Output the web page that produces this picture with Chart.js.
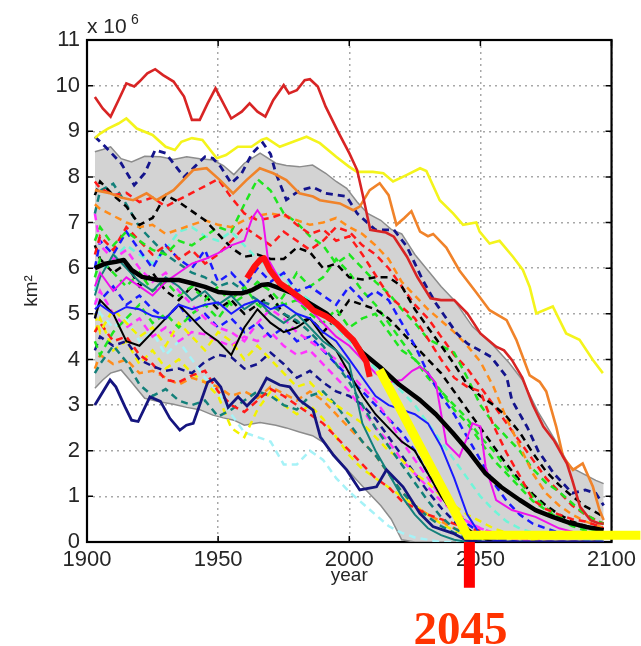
<!DOCTYPE html>
<html><head><meta charset="utf-8">
<script src="https://cdn.jsdelivr.net/npm/chart.js@4/dist/chart.umd.min.js"></script>
<style>html,body{margin:0;padding:0;background:#fff;}canvas{display:block;}</style>
</head><body>
<canvas id="c" width="641" height="646"></canvas>
<script>
// ---------- axis ticks ----------
const xTicks = [1900, 1950, 2000, 2050, 2100];
const yTicks = [0,1,2,3,4,5,6,7,8,9,10,11];

// ---------- common 5-year grid for model runs ----------
const years5 = [1903,1905,1910,1915,1920,1925,1930,1935,1940,1945,1950,1955,1960,1965,1970,1975,1980,1985,1990,1995,2000,2005,2010,2015,2020,2025,2030,2035,2040,2045,2050,2055,2060,2065,2070,2075,2080,2085,2090,2095,2097];

// ---------- ensemble spread (grey band) ----------
const bandYears = [1903,1906,1909,1913,1917,1922,1928,1933,1938,1943,1948,1952,1956,1960,1966,1972,1976,1981,1986,1991,1995,1999,2003,2007,2012,2016,2020,2025,2030,2035,2040,2047,2055,2061,2066,2072,2080,2084,2090,2094,2097];
const bandUpper = [8.55,8.6,8.66,8.4,8.33,8.45,8.44,8.38,8.44,8.4,8.37,8.25,8.05,8.3,8.52,8.3,8.25,8.22,8.26,8.08,7.9,7.75,7.45,7.2,7.05,6.85,6.75,6.3,5.95,5.6,5.3,4.72,4.3,3.92,3.55,2.85,2.09,1.65,1.47,1.35,1.28];
const bandLower = [3.37,3.55,3.7,3.77,3.5,3.15,3.07,3.02,2.95,2.9,2.78,2.72,2.67,2.56,2.62,2.56,2.5,2.41,2.33,2.15,1.85,1.6,1.35,1.1,0.8,0.5,0.05,0,0,0,0,0,0,0,0,0,0,0,0,0,0];

// ---------- dashed model runs (values on years5) ----------
const dNavy1Years = [1903,1907,1913,1918,1922,1926,1930,1934,1937,1941,1945,1948,1951,1955,1959,1963,1967,1970,1972,1976,1981,1986,1991,1999,2003,2010,2017,2022,2028,2033,2041,2045,2054,2060,2062,2068,2072,2078,2085,2090,2094,2097];
const dNavy1 = [8.88,8.66,8.3,7.82,8.08,8.59,8.52,8.22,8.0,8.22,8.44,8.41,8.22,7.86,8.08,8.52,8.75,8.5,8.08,7.5,7.7,7.78,7.64,7.57,7.2,6.84,6.84,6.47,5.74,5.23,4.57,4.35,4.06,3.62,3.11,2.5,2.0,1.5,1.07,1.14,1.07,0.8];
const dRed1 = [7.9,7.75,7.6,7.65,7.45,7.55,7.35,7.5,7.65,7.8,7.95,7.55,7.2,7.05,7.1,7.2,6.95,6.75,6.85,6.6,6.7,6.3,5.85,5.4,5.15,4.9,4.45,4.0,3.6,3.4,3.3,2.55,1.95,1.45,0.92,0.72,0.6,0.5,0.45,0.35,0.3];
const dBlack1 = [7.6,7.9,7.6,7.35,6.95,7.1,7.6,7.45,7.25,7.05,6.75,6.45,6.25,6.3,6.2,6.2,6.45,6.35,6.0,6.1,5.8,5.75,5.8,5.8,5.6,5.1,4.7,4.3,3.9,3.45,3.2,3.0,2.75,2.4,1.95,1.55,1.25,1.0,0.78,0.62,0.55];
const dOrange1 = [7.4,7.3,7.15,7.0,6.9,6.95,6.75,6.85,6.95,7.05,6.95,6.9,7.05,7.15,7.2,7.15,7.05,6.95,7.0,7.1,6.9,6.75,6.5,6.2,5.7,5.4,5.1,4.85,4.6,4.3,3.95,3.4,2.7,2.1,1.5,1.07,0.8,0.6,0.45,0.35,0.3];
const dGreen1 = [6.6,6.9,6.5,6.8,6.6,6.4,6.3,6.6,6.5,6.7,6.9,6.8,7.4,7.95,7.7,7.2,7.0,6.7,6.5,6.1,6.3,6.0,5.7,5.45,5.1,4.8,4.45,4.3,4.15,3.6,3.0,2.6,2.3,2.0,1.6,1.3,1.1,0.85,0.6,0.45,0.4];
const dRed3 = [6.3,6.7,6.4,6.9,6.6,6.3,6.5,6.2,6.4,6.1,6.3,6.6,6.9,6.7,6.5,6.8,6.6,6.4,6.6,6.9,6.8,6.5,6.3,6.0,5.6,5.2,4.9,4.5,4.1,3.8,3.4,3.0,2.6,2.2,1.8,1.4,1.1,0.8,0.6,0.45,0.4];
const dTeal1 = [7.2,7.7,7.85,7.4,6.9,6.6,6.3,6.1,5.9,5.8,5.6,5.7,5.5,5.3,5.2,5.0,4.85,4.6,4.3,3.9,3.5,3.0,2.5,2.1,1.7,1.3,0.9,0.55,0.3,0.15,0.05,0,0,0,0,0,0,0,0,0,0];
const dMagenta1 = [7.2,6.5,6.2,6.4,6.0,5.7,5.9,5.5,5.2,4.9,4.7,4.6,4.4,4.8,5.1,4.9,4.6,4.4,4.2,4.0,3.7,3.4,3.1,2.7,2.2,1.8,1.4,1.0,0.7,0.45,0.3,0.2,0.1,0.05,0,0,0,0,0,0,0];
const dBlue1 = [6.0,6.6,6.3,6.8,6.4,6.0,6.5,6.2,6.0,6.4,5.7,5.9,5.6,6.0,5.7,5.9,5.5,5.6,5.4,5.2,5.6,5.3,5.5,5.3,4.8,4.3,3.7,3.2,2.8,2.3,1.8,1.3,0.9,0.6,0.4,0.3,0.2,0.15,0.1,0.1,0.1];
const dAqua1 = [5.5,5.9,6.2,6.5,6.3,6.1,6.4,6.8,6.9,6.7,6.6,6.8,6.5,6.2,6.0,5.8,5.5,5.3,5.0,4.7,4.4,4.1,3.8,3.6,3.3,3.0,2.6,2.2,1.8,1.4,1.0,0.7,0.45,0.3,0.2,0.15,0.1,0.1,0.05,0.05,0.05];
const dGreen2 = [5.8,6.2,5.9,5.6,5.9,5.5,5.7,5.4,5.6,5.3,5.6,5.2,5.4,5.7,5.5,5.2,5.3,5.0,4.8,5.1,4.7,4.9,5.0,4.6,4.2,4.0,3.6,3.3,3.0,2.7,2.3,2.0,1.6,1.3,1.0,0.75,0.55,0.4,0.3,0.25,0.2];
const dGreen3 = [4.4,4.1,4.6,4.9,5.2,4.8,5.0,4.7,5.0,5.2,4.9,5.3,5.6,5.2,5.0,5.4,5.9,5.6,5.8,6.2,5.9,5.5,5.2,4.8,4.4,4.0,3.7,3.3,2.9,2.6,2.2,1.8,1.5,1.2,0.9,0.7,0.5,0.35,0.25,0.2,0.2];
const dBlack2 = [6.5,6.2,5.9,6.1,5.6,5.9,5.5,5.3,5.6,5.4,5.1,5.3,5.0,5.2,5.4,5.0,4.8,4.9,4.6,4.9,5.3,5.2,5.1,4.9,4.6,4.3,4.0,3.7,3.3,2.9,2.5,2.1,1.7,1.35,1.05,0.8,0.6,0.45,0.35,0.3,0.28];
const dBlue2 = [4.9,5.3,5.6,5.2,5.4,5.1,4.9,5.2,4.8,5.0,4.7,4.9,4.6,4.8,4.5,4.7,4.4,4.5,4.2,3.9,3.6,3.3,3.0,2.7,2.4,2.0,1.5,1.1,0.7,0.4,0.2,0.1,0.05,0,0,0,0,0,0,0,0];
const dYellow1 = [5.0,4.6,5.1,4.8,4.5,4.7,4.3,4.8,4.5,4.2,4.6,4.4,4.0,4.3,4.0,3.7,3.4,3.5,3.2,3.0,2.8,2.6,2.3,2.0,1.8,1.5,1.3,1.0,0.8,0.6,0.45,0.3,0.2,0.1,0.05,0,0,0,0,0,0];
const dYellow2 = [4.6,4.9,4.2,4.4,3.9,4.2,3.8,4.0,3.7,3.5,3.2,2.5,2.3,2.9,3.3,3.0,2.8,3.0,2.7,2.3,1.9,1.6,1.4,1.2,1.0,0.8,0.6,0.4,0.25,0.15,0.1,0,0,0,0,0,0,0,0,0,0];
const dCyan1 = [5.3,5.0,4.7,4.9,4.4,4.6,4.1,4.4,4.0,3.6,3.3,2.8,2.4,2.3,2.2,1.7,1.7,2.0,1.8,1.4,1.1,0.85,0.6,0.35,0.2,0.1,0.05,0,0,0,0,0,0,0,0,0,0,0,0,0,0];
const dNavy2 = [4.2,4.5,4.3,4.4,4.0,3.85,3.75,3.8,3.7,3.95,4.1,4.05,3.8,3.9,4.15,3.9,3.6,3.75,3.5,3.3,3.2,3.0,2.7,2.3,1.9,1.5,1.1,0.75,0.45,0.25,0.12,0.05,0,0,0,0,0,0,0,0,0];
const dTeal2 = [3.7,3.9,4.3,3.95,3.45,3.2,3.35,3.1,3.0,3.1,2.75,2.9,3.1,3.3,3.2,3.0,2.9,3.2,3.3,3.0,2.6,2.2,1.9,1.5,1.1,0.8,0.55,0.35,0.2,0.1,0.05,0,0,0,0,0,0,0,0,0,0];
const dRed2 = [4.6,4.8,4.4,4.5,4.1,3.9,3.55,3.5,3.65,3.75,3.3,3.0,2.85,3.1,3.35,3.2,3.0,2.8,2.6,2.3,2.0,1.7,1.4,1.2,0.9,0.75,0.6,0.5,0.4,0.3,0.25,0.2,0.15,0.1,0.05,0,0,0,0,0,0];
const dOrange2 = [3.8,4.1,3.9,4.0,3.7,3.75,3.6,3.45,3.6,3.5,3.4,3.2,3.3,3.15,3.4,3.25,3.1,3.3,3.1,2.8,2.5,2.2,1.9,1.5,1.1,0.8,0.6,0.45,0.3,0.2,0.1,0.05,0,0,0,0,0,0,0,0,0];
const dMagenta2 = [5.2,5.5,5.0,4.7,4.9,4.5,4.7,4.4,4.6,4.55,4.4,4.3,4.5,4.4,4.6,4.3,4.1,4.2,3.9,3.6,3.3,2.9,2.5,2.2,1.8,1.5,1.2,0.9,0.65,0.45,0.3,0.2,0.12,0.08,0.05,0,0,0,0,0,0];

// ---------- thin solid runs ----------
const sTeal = [5.4,5.8,6.3,6.0,5.7,5.5,5.8,5.6,5.3,5.5,5.2,5.4,5.1,5.3,5.0,4.8,5.0,4.7,4.4,4.2,3.9,2.6,2.0,1.5,1.0,0.6,0.3,0.15,0.05,0,0,0,0,0,0,0,0,0,0,0,0];
const sBlue = [5.1,5.2,5.0,5.15,5.1,4.95,4.9,5.2,5.1,5.2,5.25,5.0,5.2,5.3,5.1,5.2,5.0,4.9,4.6,4.4,4.0,3.6,3.2,3.0,2.9,2.8,2.6,2.1,1.4,0.6,0.15,0.05,0,0,0,0,0,0,0,0,0];
const sBlack = [4.9,5.3,5.0,4.4,4.3,4.6,4.9,5.2,4.9,4.6,4.4,4.1,4.7,5.1,4.8,4.6,4.7,4.9,4.5,4.2,3.7,3.2,2.8,2.5,2.2,2.0,1.5,1.0,0.6,0.3,0.1,0,0,0,0,0,0,0,0,0,0];
const sMagentaYears = [1903,1905,1910,1915,1920,1925,1930,1935,1940,1945,1950,1955,1960,1963,1965,1967,1969,1972,1975,1980,1985,1990,1995,2000,2005,2010,2015,2020,2024,2027,2030,2033,2037,2042,2045,2047,2050,2052,2056,2062,2071,2080,2090,2097];
const sMagenta = [5.6,5.9,5.5,5.8,5.6,5.4,5.7,5.9,6.1,6.2,6.33,6.5,6.6,7.1,7.27,7.1,6.2,5.9,5.6,5.3,5.1,4.8,4.5,4.3,4.0,3.7,3.5,3.55,3.75,3.84,3.7,3.48,2.16,1.87,2.3,2.6,2.53,1.65,0.92,0.7,0.55,0.3,0.15,0.1];

// ---------- prominent single runs ----------
const redTopYears = [1903,1906,1909,1912,1915,1918,1920,1923,1926,1929,1933,1937,1940,1943,1946,1949,1951,1955,1959,1962,1965,1968,1971,1975,1977,1980,1983,1985,1988,1991,1996,2000,2003,2005,2008,2014,2017,2022,2026,2031,2035,2040,2045,2050,2056,2059,2062,2066,2070,2074,2078,2083,2085,2088,2092,2095,2097];
const redTop = [9.75,9.5,9.32,9.68,10.05,9.98,10.09,10.27,10.36,10.23,10.09,9.76,9.25,9.25,9.61,9.94,9.72,9.28,9.43,9.61,9.43,9.32,9.68,10.01,9.83,9.9,10.12,10.14,9.98,9.54,8.96,8.52,8.15,7.64,6.84,6.78,6.69,6.25,5.8,5.34,5.3,5.3,5.01,4.57,4.28,4.2,3.99,3.6,3.0,2.53,2.23,1.72,1.36,0.77,0.48,0.41,0.4];
const yellowTopYears = [1903,1905,1908,1912,1915,1919,1925,1930,1933.5,1936,1940,1944,1947,1949.5,1953,1957.5,1962.7,1966.5,1968.5,1973.5,1978.6,1983.7,1988.8,1995,2000,2003,2009,2013,2016.7,2021.8,2027,2029.4,2034.5,2039.6,2043.4,2048.4,2049.7,2053.5,2057.3,2062.4,2066.2,2068.8,2071.3,2077.6,2082.7,2087.8,2092.9,2096.7];
const yellowTop = [8.85,8.95,9.06,9.17,9.28,9.06,8.92,8.66,8.59,8.77,8.85,8.81,8.59,8.41,8.48,8.66,8.66,8.81,8.85,8.66,8.77,8.88,8.74,8.44,8.22,8.11,8.11,8.08,7.9,8.04,8.19,8.13,7.49,7.2,6.95,7.0,6.8,6.54,6.6,6.25,5.96,5.59,5.01,5.16,4.57,4.43,3.99,3.7];
const orangeYears = [1903,1908.8,1913,1917.6,1922.7,1926.5,1933,1940.5,1945.6,1950.7,1955.7,1960.8,1965.9,1971,1976,1981,1986.2,1988.8,1996.4,2001.5,2004,2007.8,2011.6,2015,2018,2021,2023.7,2027,2030,2032,2037,2042,2048,2053.5,2060,2063.7,2068.8,2072.6,2075.1,2078.9,2081.5,2085.3,2089,2092.9,2095.4,2097];
const orangeRun = [7.71,7.64,7.55,7.49,7.64,7.49,7.71,8.15,8.19,7.93,7.64,7.93,8.19,8.08,7.93,7.64,7.57,7.49,7.42,7.27,7.35,7.71,7.86,7.6,6.95,7.1,7.25,6.8,6.7,6.75,6.45,5.95,5.5,5.08,4.86,4.43,3.65,3.51,3.3,2.53,1.87,1.58,1.72,1.21,0.7,0.48];
const navyYears = [1903,1908.8,1911,1914.5,1917,1919.5,1924,1928,1931.6,1935.4,1937.9,1940.5,1946,1948.5,1951,1953.8,1957.6,1961,1965,1968.5,1973.5,1977.3,1981,1986.2,1989,1994,1999,2004,2010.4,2014.2,2020.5,2026.9,2031.9,2039.6,2044.6,2050,2097];
const navyRun = [3.0,3.55,3.4,2.96,2.67,2.64,3.18,3.08,2.71,2.45,2.56,2.6,3.5,3.57,3.4,2.95,3.18,2.98,3.22,3.59,3.44,3.4,3.11,2.89,2.3,1.9,1.58,1.14,1.21,1.58,1.21,0.63,0.34,0.19,0.04,0,0];

// ---------- ensemble mean and observations ----------
const meanYears = [1903,1907,1911,1914,1917,1921,1927,1935,1940,1945,1950,1955,1959,1963,1966.5,1969,1972,1978.6,1985,1991.3,1996.4,2000.2,2005,2011.6,2019,2027,2033,2039.5,2046,2052,2058,2065,2071,2077.5,2084,2090.5,2097];
const meanVals = [6.0,6.1,6.14,6.18,5.96,5.81,5.74,5.74,5.67,5.59,5.48,5.45,5.45,5.52,5.63,5.65,5.59,5.45,5.23,5.01,4.72,4.5,4.15,3.84,3.45,3.11,2.8,2.39,1.95,1.5,1.2,0.92,0.7,0.55,0.42,0.33,0.26];
const obsYears = [1961,1964,1966,1967.5,1969.7,1973.5,1977.3,1982.4,1986.2,1991.3,1995.1,1998.9,2001.5,2003.5,2005.3,2006.5,2007.8];
const obsVals = [5.78,6.05,6.18,6.22,5.96,5.67,5.52,5.3,5.08,4.94,4.79,4.57,4.43,4.25,4.06,3.95,3.62];

// ---------- annotation overlay ----------
const trendYears = [2011.5, 2045, 2111];
const trendVals = [3.77, 0.15, 0.15];
const markYears = [2045.8, 2045.8];
const markVals = [0, -1.0];
const markLabel = '2045';

// ---------- build datasets ----------
const pts = (ys, vs) => ys.map((x, i) => ({x, y: vs[i]}));
const mk = (ys, vs, color, width, dash, extra) => Object.assign({
  data: pts(ys, vs), borderColor: color, borderWidth: width, borderDash: dash || [],
  pointRadius: 0, tension: 0, fill: false, borderCapStyle: 'butt'
}, extra || {});
const D = [7, 5];
const seq = [
  mk(bandYears, bandUpper, '#8c8c8c', 1.5, null, {fill: '+1', backgroundColor: '#d3d3d3'}),
  mk(bandYears, bandLower, '#8c8c8c', 1.5),
  mk(years5, dCyan1, '#a6f2f7', 2.5, D),
  mk(years5, dYellow2, '#f2f200', 2.5, D),
  mk(years5, dOrange2, '#ff8c1a', 2.5, D),
  mk(years5, dTeal2, '#13807a', 2.5, D),
  mk(years5, dRed2, '#ff1a1a', 2.5, D),
  mk(years5, dNavy2, '#14148c', 2.5, D),
  mk(years5, dMagenta2, '#ff33ff', 2.5, D),
  mk(years5, dYellow1, '#f2f200', 2.5, D),
  mk(years5, dBlue2, '#1a1aff', 2.5, D),
  mk(years5, dGreen3, '#1ee61e', 2.5, D),
  mk(years5, dBlack2, '#000000', 2.5, D),
  mk(years5, dGreen2, '#1ee61e', 2.5, D),
  mk(years5, dAqua1, '#6ff5d8', 2.5, D),
  mk(years5, dBlue1, '#1a1aff', 2.5, D),
  mk(years5, dMagenta1, '#ff33ff', 2.5, D),
  mk(years5, dTeal1, '#13807a', 2.5, D),
  mk(years5, dRed3, '#ff1a1a', 2.5, D),
  mk(years5, dGreen1, '#1ee61e', 2.5, D),
  mk(years5, dOrange1, '#ff8c1a', 2.5, D),
  mk(years5, dBlack1, '#000000', 2.5, D),
  mk(years5, dRed1, '#ff1a1a', 2.5, D),
  mk(dNavy1Years, dNavy1, '#14148c', 2.8, D),
  mk(years5, sBlack, '#000000', 2),
  mk(years5, sTeal, '#13807a', 2),
  mk(years5, sBlue, '#1a1aff', 2),
  mk(sMagentaYears, sMagenta, '#ee11ee', 2),
  mk(navyYears, navyRun, '#15157f', 2.8),
  mk(orangeYears, orangeRun, '#f0832a', 2.6),
  mk(yellowTopYears, yellowTop, '#f4f41c', 2.6),
  mk(redTopYears, redTop, '#d82424', 2.6),
  mk(meanYears, meanVals, '#000000', 4.5, null, {borderJoinStyle: 'round'}),
  mk(obsYears, obsVals, '#ff1010', 6, null, {borderJoinStyle: 'round'}),
  mk(trendYears, trendVals, '#ffff00', 9, null, {clip: false, borderJoinStyle: 'miter'}),
  mk(markYears, markVals, '#ff0000', 11, null, {clip: false})
];
seq.forEach((d, i) => { d.order = seq.length - i; });

const framePlugin = {
  id: 'frame',
  beforeDatasetsDraw(chart) {
    const {ctx, chartArea: a, scales: {x, y}} = chart;
    ctx.save();
    ctx.strokeStyle = '#000'; ctx.lineWidth = 1.5;
    ctx.beginPath();
    xTicks.forEach(v => { const p = x.getPixelForValue(v);
      ctx.moveTo(p, a.bottom); ctx.lineTo(p, a.bottom - 6);
      ctx.moveTo(p, a.top); ctx.lineTo(p, a.top + 6); });
    yTicks.forEach(v => { const p = y.getPixelForValue(v);
      ctx.moveTo(a.left, p); ctx.lineTo(a.left + 6, p);
      ctx.moveTo(a.right, p); ctx.lineTo(a.right - 6, p); });
    ctx.stroke();
    ctx.lineWidth = 2.2;
    ctx.strokeRect(a.left, a.top, a.right - a.left, a.bottom - a.top);
    ctx.restore();
  },
  afterDraw(chart) {
    const {ctx, chartArea: a, scales: {x}} = chart;
    ctx.save();
    ctx.fillStyle = '#262626';
    ctx.textBaseline = 'alphabetic'; ctx.textAlign = 'left';
    ctx.font = '21px "Liberation Sans", Arial, sans-serif';
    ctx.fillText('x 10', a.left, 33);
    ctx.font = '14px "Liberation Sans", Arial, sans-serif';
    ctx.fillText('6', a.left + 44, 24);
    ctx.fillStyle = '#ff3300';
    ctx.textAlign = 'center';
    ctx.font = 'bold 47px "Liberation Serif", "Times New Roman", serif';
    ctx.fillText(markLabel, x.getPixelForValue(markYears[0]) - 9, 644);
    ctx.restore();
  }
};

new Chart(document.getElementById('c'), {
  type: 'line',
  data: {datasets: seq},
  options: {
    responsive: false, animation: false, events: [],
    layout: {padding: {top: 40, right: 29, left: 0, bottom: 0}},
    plugins: {legend: {display: false}, tooltip: {enabled: false}},
    scales: {
      x: {
        type: 'linear', min: 1900, max: 2100,
        afterFit: s => { s.height = 104; },
        ticks: {stepSize: 50, autoSkip: false, maxRotation: 0, padding: 5, color: '#262626',
          font: {family: '"Liberation Sans", Arial, sans-serif', size: 22}, callback: v => String(v)},
        grid: {color: '#a8a8a8', lineWidth: 1.5, drawTicks: false},
        border: {display: false, dash: [2, 4]},
        title: {display: true, text: 'year', color: '#262626', padding: {top: 0, bottom: 59},
          font: {family: '"Liberation Sans", Arial, sans-serif', size: 19}}
      },
      y: {
        type: 'linear', min: 0, max: 11,
        afterFit: s => { s.width = 87; },
        ticks: {stepSize: 1, padding: 7, color: '#262626',
          font: {family: '"Liberation Sans", Arial, sans-serif', size: 22}, callback: v => String(v)},
        grid: {color: '#a8a8a8', lineWidth: 1.5, drawTicks: false},
        border: {display: false, dash: [2, 4]},
        title: {display: true, text: 'km²', color: '#262626', padding: {top: 20, bottom: 0},
          font: {family: '"Liberation Sans", Arial, sans-serif', size: 19}}
      }
    }
  },
  plugins: [framePlugin]
});
</script>
</body></html>
